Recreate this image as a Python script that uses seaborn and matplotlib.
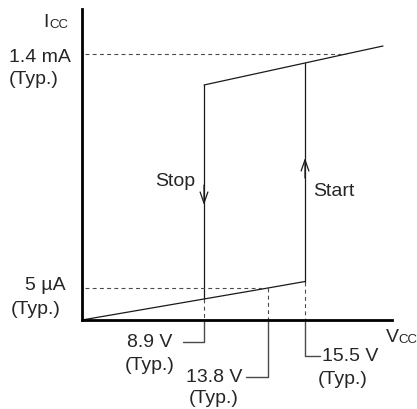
import matplotlib
matplotlib.use("Agg")
import matplotlib.pyplot as plt
import seaborn as sns
import pandas as pd

# Positions along the VCC axis (schematic units) for the key voltages
vcc_origin = 0
vcc_stop = 122      # 8.9 V
vcc_mid = 186       # 13.8 V
vcc_start = 223     # 15.5 V
vcc_end = 301

# Supply current branches (schematic units)
low_x = [0, 122, 186, 223]
low_y = [0, 21, 32, 38.5]
high_x = [122, 223, 264, 301]
high_y = [235, 257, 266, 274]

# Reference current levels
icc_high = 266      # 1.4 mA
icc_low = 32        # 5 µA

current_labels = ["1.4 mA", "5 µA"]
voltage_labels = ["8.9 V", "13.8 V", "15.5 V"]
typ_label = "(Typ.)"

sns.set_style("white")
plt.rcParams["font.family"] = ["Liberation Sans", "DejaVu Sans"]
FS = 14
LINE = "#1a1a1a"
GUIDE = "#4a4a4a"

fig = plt.figure(figsize=(4.17, 4.10), dpi=100)
W, H = 417, 410
ax = fig.add_axes([82 / W, (H - 321) / H, (392 - 82) / W, (321 - 10) / H])
ax.set_xlim(0, 310)
ax.set_ylim(0, 311)
ax.set_xticks([])
ax.set_yticks([])
for side in ("top", "right"):
    ax.spines[side].set_visible(False)
for side in ("left", "bottom"):
    ax.spines[side].set_linewidth(2.0)
    ax.spines[side].set_color("black")
    ax.spines[side].set_zorder(5)

# Current branches
low_df = pd.DataFrame({"vcc": low_x, "icc": low_y})
high_df = pd.DataFrame({"vcc": high_x, "icc": high_y})
sns.lineplot(data=low_df, x="vcc", y="icc", ax=ax, color=LINE, lw=0.9, sort=False)
sns.lineplot(data=high_df, x="vcc", y="icc", ax=ax, color=LINE, lw=0.9, sort=False)

# Hysteresis transitions
ax.plot([vcc_stop, vcc_stop], [high_y[0], low_y[1]], color=LINE, lw=0.9)
ax.plot([vcc_start, vcc_start], [low_y[3], high_y[1]], color=LINE, lw=0.9)

arrow_kw = dict(arrowstyle="->,head_length=0.8,head_width=0.28", color=LINE, lw=0.9,
                shrinkA=0, shrinkB=0)
ax.annotate("", xy=(vcc_stop, 115), xytext=(vcc_stop, 135), arrowprops=arrow_kw)
ax.annotate("", xy=(vcc_start, 162), xytext=(vcc_start, 142), arrowprops=arrow_kw)

ax.text(vcc_stop - 9, 135, "Stop", fontsize=FS, ha="right", va="baseline")
ax.text(vcc_start + 8, 125, "Start", fontsize=FS, ha="left", va="baseline")

# Dashed reference lines
dash = dict(color=GUIDE, lw=0.8, linestyle=(0, (3.5, 3)))
ax.plot([3, high_x[2]], [icc_high, icc_high], **dash)
ax.plot([3, vcc_mid], [icc_low, icc_low], **dash)
ax.plot([vcc_stop, vcc_stop], [low_y[1], 0], **dash)
ax.plot([vcc_mid, vcc_mid], [icc_low, 0], **dash)
ax.plot([vcc_start, vcc_start], [low_y[3], 0], **dash)

# Leader lines below the VCC axis
lead = dict(color=GUIDE, lw=1.0, clip_on=False)
ax.plot([vcc_stop, vcc_stop, 101], [0, -22, -22], **lead)
ax.plot([vcc_mid, vcc_mid, 164], [0, -57, -57], **lead)
ax.plot([vcc_start, vcc_start, 238], [0, -36, -36], **lead)

def label(x, y, s, **kw):
    kw.setdefault("fontsize", FS)
    kw.setdefault("va", "center")
    ax.text(x, y, s, clip_on=False, **kw)

# Current level labels
label(-73, 321 - 57, current_labels[0], ha="left")
label(-73, 321 - 80, typ_label, ha="left")
label(-37, 321 - 285, current_labels[1], ha="center")
label(-46.5, 321 - 310, typ_label, ha="center")

# Voltage labels
label(68, 321 - 343, voltage_labels[0], ha="center")
label(68, 321 - 366, typ_label, ha="center")
label(132, 321 - 378, voltage_labels[1], ha="center")
label(132, 321 - 399, typ_label, ha="center")
label(240, 321 - 357, voltage_labels[2], ha="left")
label(261, 321 - 380, typ_label, ha="center")

# Axis titles
label(-33.5, 321 - 27, "I", ha="right", va="baseline")
label(-32.5, 321 - 28, "CC", ha="left", va="baseline", fontsize=9.5)
label(303.5, 321 - 342, "V", ha="left", va="baseline")
label(316.5, 321 - 343, "CC", ha="left", va="baseline", fontsize=9.5)

fig.savefig("out.png", dpi=100)
